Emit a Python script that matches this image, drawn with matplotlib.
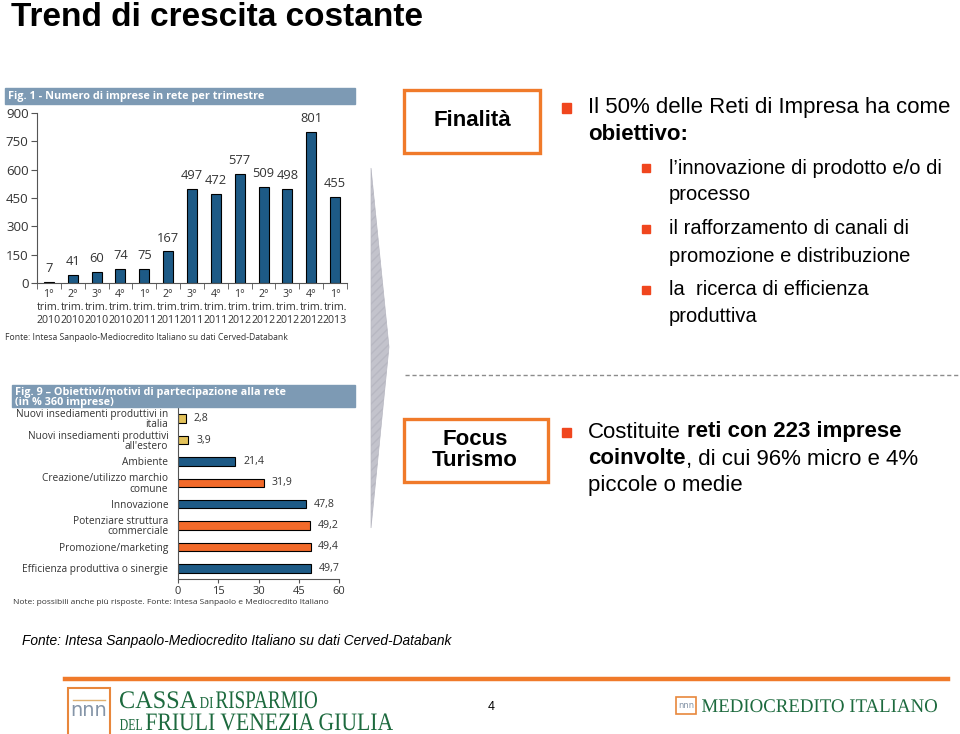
import matplotlib

matplotlib.use("Agg")
import matplotlib.pyplot as plt
import numpy as np
from matplotlib.font_manager import FontProperties
from matplotlib.patches import PathPatch, Polygon, Rectangle
from matplotlib.textpath import TextPath
from matplotlib.transforms import Affine2D

W, H = 960, 734

# --- data -------------------------------------------------------------------
quarters = ["1°\ntrim.\n2010", "2°\ntrim.\n2010", "3°\ntrim.\n2010", "4°\ntrim.\n2010",
            "1°\ntrim.\n2011", "2°\ntrim.\n2011", "3°\ntrim.\n2011", "4°\ntrim.\n2011",
            "1°\ntrim.\n2012", "2°\ntrim.\n2012", "3°\ntrim.\n2012", "4°\ntrim.\n2012",
            "1°\ntrim.\n2013"]
imprese = [7, 41, 60, 74, 75, 167, 497, 472, 577, 509, 498, 801, 455]
imprese_ticks = [0, 150, 300, 450, 600, 750, 900]

motivi = ["Nuovi insediamenti produttivi in\nitalia",
          "Nuovi insediamenti produttivi\nall'estero",
          "Ambiente",
          "Creazione/utilizzo marchio\ncomune",
          "Innovazione",
          "Potenziare struttura\ncommerciale",
          "Promozione/marketing",
          "Efficienza produttiva o sinergie"]
percentuali = [2.8, 3.9, 21.4, 31.9, 47.8, 49.2, 49.4, 49.7]
gruppo = ["y", "y", "b", "o", "b", "o", "o", "b"]
perc_ticks = [0, 15, 30, 45, 60]

BLUE = "#1d5a86"
ORANGE_BAR = "#f26a2a"
YELLOW_BAR = "#e3c25a"
BAND = "#7d9ab4"
ORANGE = "#f07a2a"
BULLET = "#f0461e"
GREEN = "#1d6a3e"
SLIDE_FONT = "Liberation Sans"
CHART_FONT = "Open Sans"


def fx(x):
    return x / W


def fy(y):
    return 1 - y / H


fig = plt.figure(figsize=(W / 100, H / 100), dpi=100)
renderer = fig.canvas.get_renderer()


def text_width(s, **kw):
    t = fig.text(0, 0, s, **kw)
    w = t.get_window_extent(renderer).width
    t.remove()
    return w


def rich_line(x, y, parts, size):
    """Draw pieces of one line (text, weight) left to right."""
    space = text_width("a a", fontsize=size, family=SLIDE_FONT) - text_width("aa", fontsize=size, family=SLIDE_FONT)
    for s, weight in parts:
        x += (len(s) - len(s.lstrip(" "))) * space
        t = fig.text(fx(x), fy(y), s.strip(" "), fontsize=size, weight=weight, family=SLIDE_FONT,
                     va="center", ha="left", color="black")
        x += t.get_window_extent(renderer).width
        x += (len(s) - len(s.rstrip(" "))) * space


def bullet(x, y, size=9):
    fig.patches.append(Rectangle((fx(x - size / 2), fy(y + size / 2)), size / W, size / H,
                                 transform=fig.transFigure, color=BULLET))


def box(x0, y0, x1, y1, color=ORANGE, lw=2.4):
    fig.patches.append(Rectangle((fx(x0), fy(y1)), (x1 - x0) / W, (y1 - y0) / H,
                                 transform=fig.transFigure, fill=False, edgecolor=color, linewidth=lw))


def logo_text(s, x0, x1, baseline, cap_h, color=GREEN):
    """Condensed serif caps for the logos, stretched to the given span."""
    path = TextPath((0, 0), s, size=1, prop=FontProperties(family="Liberation Serif"))
    ext = path.get_extents()
    sx = (x1 - x0) / ext.width
    sy = cap_h / ext.height
    tr = Affine2D().translate(-ext.x0, 0).scale(sx, sy).translate(x0, H - baseline)
    fig.add_artist(PathPatch(path, transform=tr, facecolor=color, edgecolor="none"))


# --- title --------------------------------------------------------------------
fig.text(fx(11), fy(26), "Trend di crescita costante", fontsize=24, weight="bold",
         family=SLIDE_FONT, va="baseline", ha="left")

# --- Fig. 1 bar chart ---------------------------------------------------------
fig.patches.append(Rectangle((fx(5), fy(104)), 350 / W, 16 / H, transform=fig.transFigure, color=BAND))
fig.text(fx(8), fy(96), "Fig. 1 - Numero di imprese in rete per trimestre", fontsize=7.8,
         weight="bold", color="white", family=CHART_FONT, va="center")

ax1 = fig.add_axes([fx(37), fy(283), (347 - 37) / W, (283 - 113) / H])
x = np.arange(len(imprese))
ax1.bar(x, imprese, width=0.42, color=BLUE, edgecolor="black", linewidth=0.8)
for xi, v in zip(x, imprese):
    ax1.annotate(str(v), (xi, v), xytext=(0, 5), textcoords="offset points", ha="center",
                 va="bottom", fontsize=9.3, color="#333333", family=CHART_FONT, annotation_clip=False)
ax1.set_xlim(-0.5, len(imprese) - 0.5)
ax1.set_ylim(0, 900)
ax1.set_yticks(imprese_ticks)
ax1.set_yticklabels([str(t) for t in imprese_ticks], fontsize=9.5, color="#333333", family=CHART_FONT)
ax1.set_xticks(x)
ax1.set_xticklabels(quarters, fontsize=7.7, color="#333333", family=CHART_FONT, linespacing=1.25)
ax1.set_xticks(np.arange(-0.5, len(imprese), 1), minor=True)
ax1.tick_params(axis="x", which="major", length=0, pad=4)
ax1.tick_params(axis="x", which="minor", length=4, color="#555555")
ax1.tick_params(axis="y", length=4, color="#555555", pad=2)
for side in ("top", "right"):
    ax1.spines[side].set_visible(False)
for side in ("left", "bottom"):
    ax1.spines[side].set_color("#555555")
    ax1.spines[side].set_linewidth(0.8)
ax1.patch.set_alpha(0)

fig.text(fx(5), fy(338), "Fonte: Intesa Sanpaolo-Mediocredito Italiano su dati Cerved-Databank",
         fontsize=6.2, color="#333333", family=CHART_FONT, va="center")

# --- Fig. 9 horizontal bar chart ---------------------------------------------
fig.patches.append(Rectangle((fx(12), fy(407)), 343 / W, 22 / H, transform=fig.transFigure, color=BAND))
fig.text(fx(15), fy(397.5), "Fig. 9 – Obiettivi/motivi di partecipazione alla rete\n(in % 360 imprese)",
         fontsize=7.8, weight="bold", color="white", family=CHART_FONT, va="center", linespacing=0.92)

bar_colors = {"y": YELLOW_BAR, "b": BLUE, "o": ORANGE_BAR}
ax2 = fig.add_axes([fx(178), fy(579), (339 - 178) / W, (579 - 408) / H])
y = np.arange(len(percentuali))
ax2.barh(y, percentuali, height=0.4, color=[bar_colors[g] for g in gruppo],
         edgecolor="black", linewidth=0.8)
for yi, v in zip(y, percentuali):
    ax2.annotate(f"{v:.1f}".replace(".", ","), (v, yi), xytext=(5.5, 0), textcoords="offset points",
                 ha="left", va="center", fontsize=7.6, color="#333333", family=CHART_FONT)
ax2.set_xlim(0, 60)
ax2.set_ylim(len(percentuali) - 0.5, -0.5)
ax2.set_xticks(perc_ticks)
ax2.set_xticklabels([str(t) for t in perc_ticks], fontsize=8, color="#333333", family=CHART_FONT)
ax2.set_yticks(y)
ax2.set_yticklabels(motivi, fontsize=7.3, color="#333333", family=CHART_FONT, linespacing=0.9)
ax2.tick_params(axis="y", length=0, pad=7)
ax2.tick_params(axis="x", length=3, color="#555555", pad=2)
for side in ("top", "right"):
    ax2.spines[side].set_visible(False)
for side in ("left", "bottom"):
    ax2.spines[side].set_color("#555555")
    ax2.spines[side].set_linewidth(0.8)
ax2.patch.set_alpha(0)

fig.text(fx(13), fy(602), "Note: possibili anche più risposte. Fonte: Intesa Sanpaolo e Mediocredito Italiano",
         fontsize=6.0, color="#333333", family=CHART_FONT, va="center")

# --- grey chevron between charts and text ------------------------------------
fig.patches.append(Polygon([(fx(371), fy(168)), (fx(389), fy(347)), (fx(371), fy(528))],
                           closed=True, transform=fig.transFigure, facecolor="#c3c3cc",
                           edgecolor="#b8b8c2", hatch="////", linewidth=0.5))

# --- Finalità block -------------------------------------------------------------
box(404, 90, 540, 153)
fig.text(fx(472), fy(121), "Finalità", fontsize=16, weight="bold", family=SLIDE_FONT, ha="center", va="center")

size1, size2 = 16, 14.5
bullet(566, 108)
rich_line(588, 108, [("Il 50% delle Reti di Impresa ha come", "normal")], size1)
rich_line(588, 134, [("obiettivo:", "bold")], size1)
sub_lines = [(168, "l’innovazione di prodotto e/o di", True), (195, "processo", False),
             (229, "il rafforzamento di canali di", True), (256, "promozione e distribuzione", False),
             (290, "la  ricerca di efficienza", True), (317, "produttiva", False)]
for yy, s, has_bullet in sub_lines:
    if has_bullet:
        bullet(646, yy, size=8)
    rich_line(669, yy, [(s, "normal")], size2)

# dashed separator
fig.add_artist(plt.Line2D([fx(405), fx(960)], [fy(375), fy(375)], transform=fig.transFigure,
                          color="#8c8c8c", linestyle=(0, (3, 2)), linewidth=1))

# --- Focus Turismo block ------------------------------------------------------
box(404, 419, 548, 482)
fig.text(fx(475), fy(450), "Focus\nTurismo", fontsize=16, weight="bold", family=SLIDE_FONT,
         ha="center", va="center", linespacing=1.0)
bullet(566, 432)
rich_line(588, 432, [("Costituite ", "normal"), ("reti con 223 imprese", "bold")], size1)
rich_line(588, 459, [("coinvolte", "bold"), (", di cui 96% micro e 4%", "normal")], size1)
rich_line(588, 486, [("piccole o medie", "normal")], size1)

# --- source line -------------------------------------------------------------
fig.text(fx(22), fy(641), "Fonte: Intesa Sanpaolo-Mediocredito Italiano su dati Cerved-Databank",
         fontsize=9.9, style="italic", family=SLIDE_FONT, va="center")

# --- footer ---------------------------------------------------------------------
fig.add_artist(plt.Line2D([fx(65), fx(948)], [fy(679), fy(679)], transform=fig.transFigure,
                          color=ORANGE, linewidth=3.2))
box(68, 688, 110, 740, color="#e8873c", lw=1.5)
fig.add_artist(plt.Line2D([fx(73), fx(105)], [fy(700), fy(700)], transform=fig.transFigure,
                          color="#e0b070", linewidth=1))
fig.text(fx(89), fy(710), "nnn", fontsize=14, color="#8595a8", family="DejaVu Sans",
         ha="center", va="center")
logo_text("CASSA", 120, 197, 708, 17)
logo_text("DI", 200, 213, 708, 11)
logo_text("RISPARMIO", 216, 317, 708, 17)
logo_text("DEL", 120, 142, 730, 11)
logo_text("FRIULI VENEZIA GIULIA", 146, 393, 730, 17)

fig.text(fx(491), fy(707), "4", fontsize=9, family=SLIDE_FONT, ha="center", va="center")
box(676, 697, 696, 714, color="#e8873c", lw=1.2)
fig.text(fx(686), fy(706), "nnn", fontsize=6, color="#8595a8", family="DejaVu Sans", ha="center", va="center")
logo_text("MEDIOCREDITO ITALIANO", 702, 937, 712, 13)

fig.savefig("out.png", dpi=100)
